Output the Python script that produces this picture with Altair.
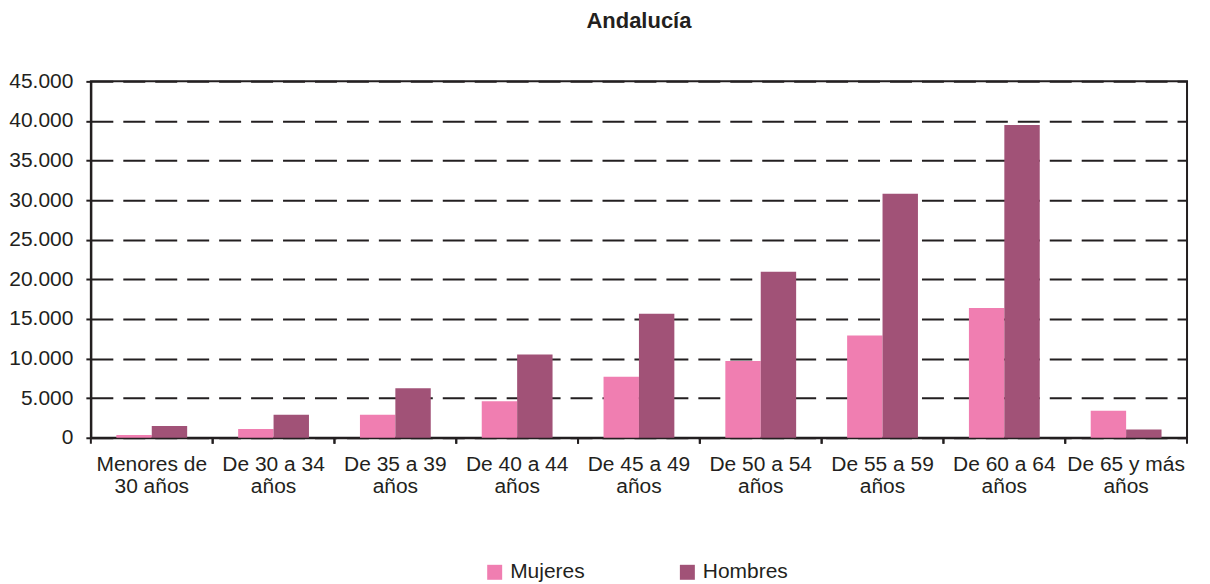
import altair as alt
import pandas as pd

categorias = ["Menores de|30 años", "De 30 a 34|años", "De 35 a 39|años", "De 40 a 44|años",
              "De 45 a 49|años", "De 50 a 54|años", "De 55 a 59|años", "De 60 a 64|años",
              "De 65 y más|años"]
mujeres = [350, 1100, 2900, 4600, 7700, 9700, 12900, 16400, 3400]
hombres = [1500, 2900, 6250, 10500, 15650, 20950, 30800, 39500, 1050]
series = ["Mujeres", "Hombres"]
colores = ["#F07EB1", "#A15277"]
y_ticks = [0, 5000, 10000, 15000, 20000, 25000, 30000, 35000, 40000, 45000]

rows = []
for c, m, h in zip(categorias, mujeres, hombres):
    rows.append({"cat": c, "serie": "Mujeres", "valor": m})
    rows.append({"cat": c, "serie": "Hombres", "valor": h})
df = pd.DataFrame(rows)
ticks_df = pd.DataFrame({"cat": categorias})

FONT = "Liberation Sans"
INK = "#231f20"
W, H = 1098, 357

xscale = alt.Scale(paddingInner=0, paddingOuter=0)
xaxis = alt.Axis(labelExpr="split(datum.label, '|')", ticks=False, labelAngle=0,
                 labelFontSize=21, labelLineHeight=22, labelPadding=16,
                 domainColor=INK, domainWidth=2, labelColor=INK, labelFont=FONT,
                 labelLimit=300)

bars = alt.Chart(df).mark_bar().encode(
    x=alt.X("cat:N", sort=categorias, title=None, scale=xscale, axis=xaxis),
    xOffset=alt.XOffset("serie:N", sort=series, scale=alt.Scale(paddingOuter=0.72, paddingInner=0)),
    y=alt.Y("valor:Q", title=None, scale=alt.Scale(domain=[0, 45000], nice=False),
            axis=alt.Axis(values=y_ticks,
                          labelExpr="replace(format(datum.value, ','), ',', '.')",
                          grid=True, gridDash=[22, 10], gridColor=INK, gridWidth=2,
                          tickSize=5, tickWidth=2, tickColor=INK,
                          domainColor=INK, domainWidth=2,
                          labelFontSize=21, labelPadding=13, labelColor=INK, labelFont=FONT)),
    color=alt.Color("serie:N", sort=series,
                    scale=alt.Scale(domain=series, range=colores),
                    legend=alt.Legend(title=None, orient="none", legendX=394, legendY=481,
                                      direction="horizontal", symbolType="square",
                                      symbolSize=225, symbolStrokeWidth=0,
                                      labelFontSize=21, labelFont=FONT, labelColor=INK,
                                      labelOffset=5, columnPadding=92, padding=0)),
)

tick_start = alt.Chart(ticks_df).mark_rule(color=INK, strokeWidth=2).encode(
    x=alt.X("cat:N", sort=categorias, title=None, bandPosition=0, scale=xscale, axis=xaxis),
    y=alt.value(H), y2=alt.value(H + 6),
)
tick_end = alt.Chart(ticks_df).mark_rule(color=INK, strokeWidth=2).encode(
    x=alt.X("cat:N", sort=categorias, title=None, bandPosition=1, scale=xscale, axis=xaxis),
    y=alt.value(H), y2=alt.value(H + 6),
)

chart = alt.layer(bars, tick_start, tick_end).properties(
    width=W, height=H,
    title=alt.TitleParams("Andalucía", fontSize=22, fontWeight="bold", font=FONT,
                          color=INK, anchor="middle", offset=37),
    autosize=alt.AutoSizeParams(type="none"),
    padding={"left": 83, "top": 73, "right": 15, "bottom": 150},
).configure(background="white").configure_view(stroke=INK, strokeWidth=2)

chart.save("out.html", embed_options={"renderer": "svg", "actions": False})
